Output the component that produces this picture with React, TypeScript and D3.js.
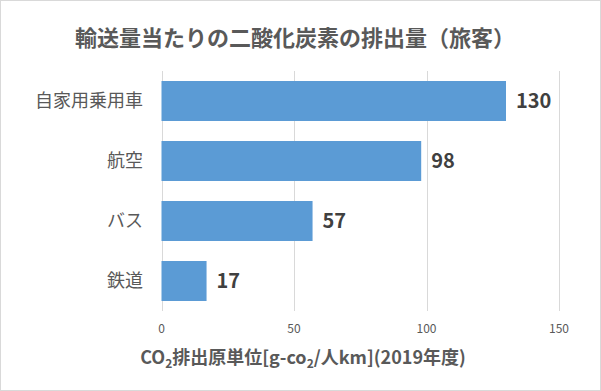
import React, { useEffect, useRef } from 'react';
import * as d3 from 'd3';

// data
const categories = ['自家用乗用車', '航空', 'バス', '鉄道'];
const values = [130, 98, 57, 17];
const tickValues = [0, 50, 100, 150];

const W = 601;
const H = 391;
const FONT = '"Noto Sans CJK JP", "Noto Sans", sans-serif';

function Chart() {
	const ref = useRef<SVGSVGElement>(null);

	useEffect(() => {
		const svg = d3.select(ref.current);
		svg.selectAll('*').remove();

		// outer frame
		svg.append('rect')
			.attr('x', 0.5).attr('y', 0.5)
			.attr('width', W - 1).attr('height', H - 1)
			.attr('fill', '#fff').attr('stroke', '#d9d9d9');

		const x = d3.scaleLinear().domain([0, 150]).range([161.5, 559]);
		const y = d3.scaleBand<string>().domain(categories).range([71, 311])
			.paddingInner(1 / 3).paddingOuter(1 / 6);

		// gridlines
		svg.append('g').selectAll('line').data(tickValues).join('line')
			.attr('x1', d => Math.round(x(d)) + 0.5).attr('x2', d => Math.round(x(d)) + 0.5)
			.attr('y1', 71).attr('y2', 311)
			.attr('stroke', '#d9d9d9').attr('stroke-width', 1);

		// bars
		svg.append('g').selectAll('rect').data(values).join('rect')
			.attr('x', x(0))
			.attr('y', (d, i) => y(categories[i]) as number)
			.attr('width', d => x(d) - x(0))
			.attr('height', y.bandwidth())
			.attr('fill', '#5b9bd5');

		// value labels
		svg.append('g').selectAll('text').data(values).join('text')
			.attr('x', d => x(d) + 10)
			.attr('y', (d, i) => (y(categories[i]) as number) + y.bandwidth() / 2)
			.attr('dy', '0.36em')
			.attr('font-family', FONT).attr('font-size', 20).attr('font-weight', 'bold')
			.attr('fill', '#404040')
			.text(d => d);

		// category labels
		svg.append('g').selectAll('text').data(categories).join('text')
			.attr('x', 143)
			.attr('y', d => (y(d) as number) + y.bandwidth() / 2)
			.attr('dy', '0.36em')
			.attr('text-anchor', 'end')
			.attr('font-family', FONT).attr('font-size', 18)
			.attr('fill', '#595959')
			.text(d => d);

		// tick labels
		svg.append('g').selectAll('text').data(tickValues).join('text')
			.attr('x', d => x(d))
			.attr('y', 329)
			.attr('dy', '0.36em')
			.attr('text-anchor', 'middle')
			.attr('font-family', FONT).attr('font-size', 12)
			.attr('fill', '#595959')
			.text(d => d);

		// title
		svg.append('text')
			.attr('x', 295).attr('y', 38)
			.attr('dy', '0.36em')
			.attr('text-anchor', 'middle')
			.attr('font-family', FONT).attr('font-size', 22).attr('font-weight', 'bold')
			.attr('fill', '#595959')
			.text('輸送量当たりの二酸化炭素の排出量（旅客）');

		// axis title with subscripts
		const at = svg.append('text')
			.attr('x', 303).attr('y', 358)
			.attr('dy', '0.36em')
			.attr('text-anchor', 'middle')
			.attr('font-family', FONT).attr('font-size', 18).attr('font-weight', 'bold')
			.attr('fill', '#595959');
		at.append('tspan').text('CO');
		at.append('tspan').attr('font-size', 12).attr('dy', 4).text('2');
		at.append('tspan').attr('dy', -4).text('排出原単位[g-co');
		at.append('tspan').attr('font-size', 12).attr('dy', 4).text('2');
		at.append('tspan').attr('dy', -4).text('/人km](2019年度)');
	}, []);

	return <svg ref={ref} width={W} height={H} style={{ display: 'block' }} />;
}

export default function App() {
	return (
		<div style={{ position: 'absolute', left: 0, top: 0 }}>
			<Chart />
		</div>
	);
}
